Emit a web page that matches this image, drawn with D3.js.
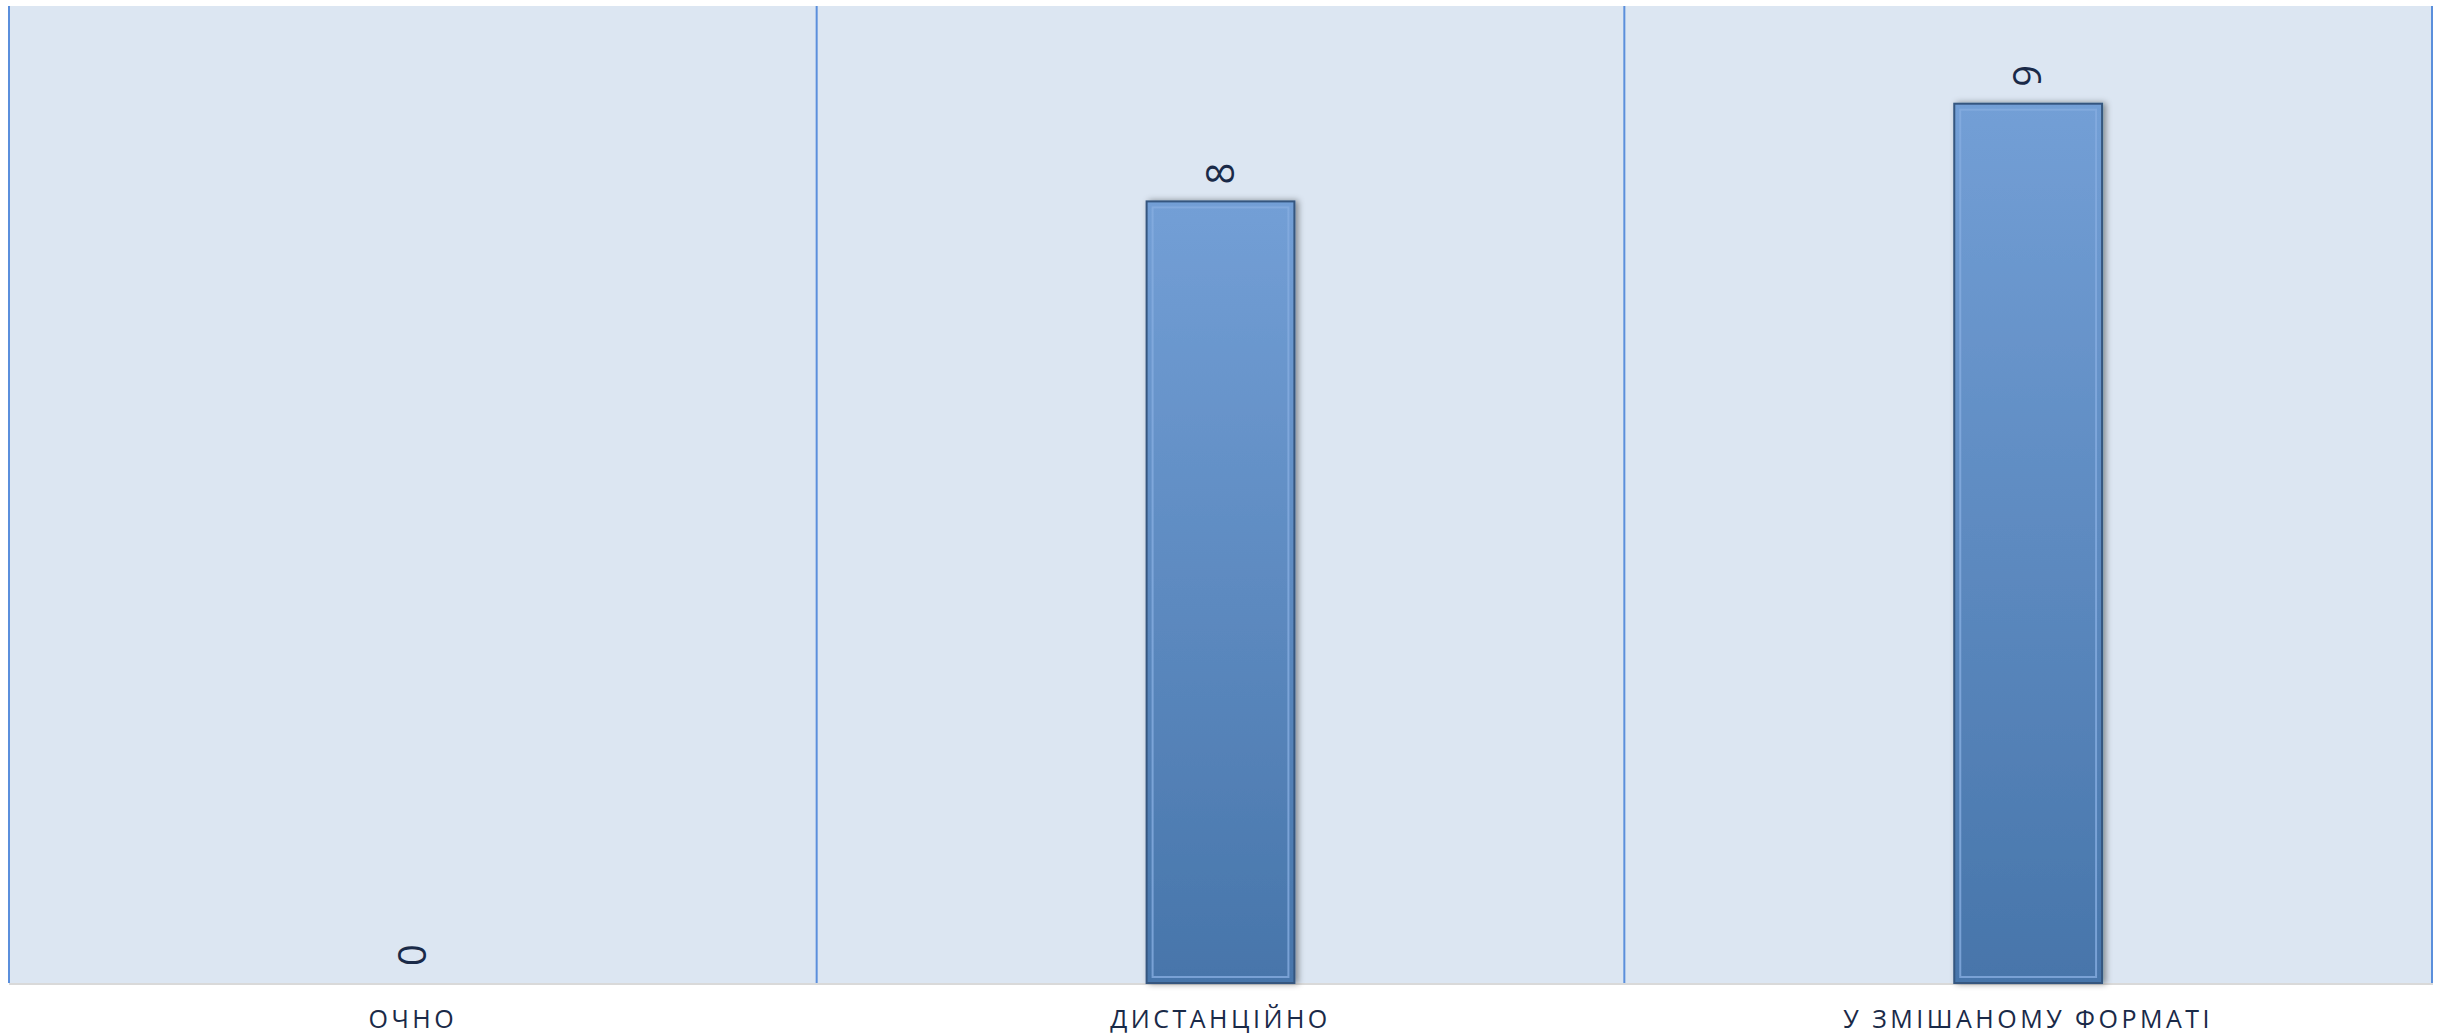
<!DOCTYPE html>
<html>
<head>
<meta charset="utf-8">
<script src="https://cdn.jsdelivr.net/npm/d3@7"></script>
<style>
  body { margin: 0; background: #fff; }
  svg { display: block; }
</style>
</head>
<body>
<div class="chart-container"></div>
<script>
let categories = ['ОЧНО', 'ДИСТАНЦІЙНО', 'У ЗМІШАНОМУ ФОРМАТІ']
let values = [0, 8, 9]
let yDomain = [0, 10]

let width = 2448,
    height = 1036,
    margin = { top: 6, right: 16, bottom: 53, left: 9 }

let svg = d3.select('.chart-container')
  .append('svg')
  .attr('width', width)
  .attr('height', height)

let x = d3.scaleBand()
  .domain(categories)
  .range([margin.left, width - margin.right])
  .padding(0)

let y = d3.scaleLinear()
  .domain(yDomain)
  .range([height - margin.bottom, margin.top])

let defs = svg.append('defs')

let grad = defs.append('linearGradient')
  .attr('id', 'barGrad')
  .attr('x1', 0).attr('y1', 0)
  .attr('x2', 0).attr('y2', 1)
grad.append('stop').attr('offset', '0%').attr('stop-color', '#739fd6')
grad.append('stop').attr('offset', '100%').attr('stop-color', '#4775aa')

let shadow = defs.append('filter')
  .attr('id', 'barShadow')
  .attr('x', '-20%').attr('y', '-5%')
  .attr('width', '140%').attr('height', '110%')
shadow.append('feDropShadow')
  .attr('dx', 3).attr('dy', 0)
  .attr('stdDeviation', 3)
  .attr('flood-color', '#000')
  .attr('flood-opacity', 0.4)

// plot background
svg.append('rect')
  .attr('x', x.range()[0])
  .attr('y', y.range()[1])
  .attr('width', x.range()[1] - x.range()[0])
  .attr('height', y.range()[0] - y.range()[1])
  .attr('fill', '#dce6f2')

// vertical separators
let seps = categories.map(c => x(c)).concat([x.range()[1]])
svg.selectAll('.sep')
  .data(seps)
  .enter()
  .append('line')
  .attr('class', 'sep')
  .attr('x1', d => d)
  .attr('x2', d => d)
  .attr('y1', y.range()[1])
  .attr('y2', y.range()[0])
  .attr('stroke', '#5b8fdc')
  .attr('stroke-width', 2)

// baseline
svg.append('line')
  .attr('x1', x.range()[0])
  .attr('x2', x.range()[1] + 1)
  .attr('y1', y(0) + 1)
  .attr('y2', y(0) + 1)
  .attr('stroke', '#d9d9d9')
  .attr('stroke-width', 2)

let barFrac = 0.183
let bw = x.bandwidth() * barFrac

let bars = svg.selectAll('.bar')
  .data(categories.map((c, i) => ({ name: c, value: values[i] })))
  .enter()
  .append('g')
  .attr('class', 'bar')

bars.filter(d => d.value > 0)
  .append('rect')
  .attr('x', d => x(d.name) + (x.bandwidth() - bw) / 2)
  .attr('y', d => y(d.value))
  .attr('width', bw)
  .attr('height', d => y(0) - y(d.value))
  .attr('fill', 'url(#barGrad)')
  .attr('stroke', '#34567f')
  .attr('stroke-width', 2)
  .attr('filter', 'url(#barShadow)')

// inner bevel
bars.filter(d => d.value > 0)
  .append('rect')
  .attr('x', d => x(d.name) + (x.bandwidth() - bw) / 2 + 6)
  .attr('y', d => y(d.value) + 6)
  .attr('width', bw - 12)
  .attr('height', d => y(0) - y(d.value) - 12)
  .attr('fill', 'none')
  .attr('stroke', '#86ace0')
  .attr('stroke-opacity', 0.8)
  .attr('stroke-width', 2)

// value labels, rotated
bars.append('text')
  .attr('transform', d => `translate(${x(d.name) + x.bandwidth() / 2},${y(d.value) - 17}) rotate(-90)`)
  .attr('dy', '0.35em')
  .attr('text-anchor', 'start')
  .attr('font-family', 'Open Sans, sans-serif')
  .attr('font-size', 38)
  .attr('fill', '#1a2a48')
  .text(d => d.value)

// category labels
svg.selectAll('.cat')
  .data(categories)
  .enter()
  .append('text')
  .attr('class', 'cat')
  .attr('x', d => x(d) + x.bandwidth() / 2)
  .attr('y', 1028)
  .attr('text-anchor', 'middle')
  .attr('font-family', 'Open Sans, sans-serif')
  .attr('font-size', 25)
  .attr('letter-spacing', 3.5)
  .attr('fill', '#1a2a48')
  .text(d => d)
</script>
</body>
</html>
